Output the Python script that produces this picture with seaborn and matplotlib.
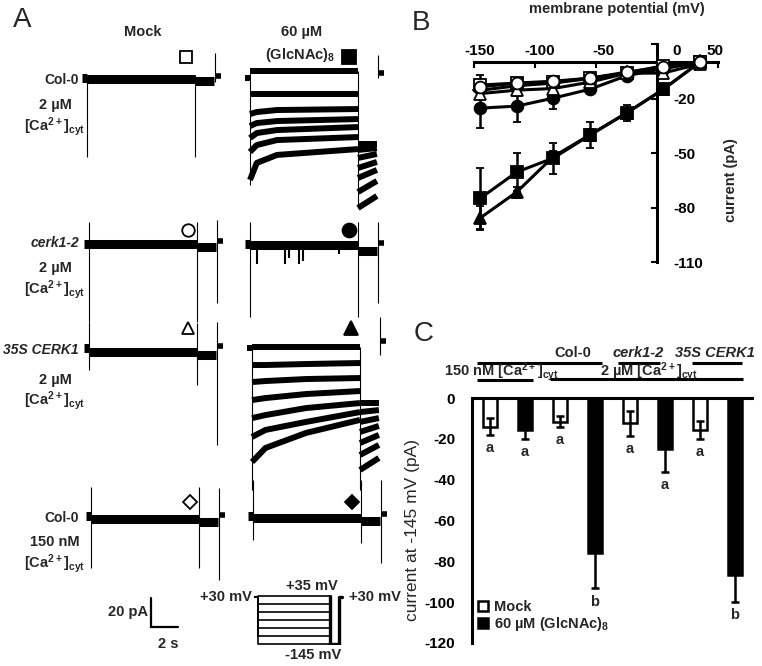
import numpy as np
import pandas as pd
import matplotlib
matplotlib.use("Agg")
import matplotlib.pyplot as plt
import matplotlib.transforms as mtransforms
import seaborn as sns

sns.set_theme(style="white")
plt.rcParams['font.family'] = ['Liberation Sans', 'DejaVu Sans']
plt.rcParams['font.size'] = 10.5
plt.rcParams['font.weight'] = 'bold'
plt.rcParams['axes.unicode_minus'] = False
plt.rcParams['mathtext.fontset'] = 'custom'
plt.rcParams['mathtext.rm'] = 'Liberation Sans:bold'
plt.rcParams['mathtext.it'] = 'Liberation Sans:italic:bold'
plt.rcParams['mathtext.bf'] = 'Liberation Sans:bold'
plt.rcParams['mathtext.default'] = 'bf'

CA = r'[Ca$^{2+}$]$_{cyt}$'
GLC = r'60 µM (GlcNAc)$_8$'

# ---------------- panel A data (pA relative to holding current, s) ----------------
step_mv = [35, 5, -25, -55, -85, -115, -145]
hold_mv = 30
tail_mv = -145
pulse_s, tail_s, after_s, pre_s = 8.0, 1.4, 0.55, 0.35

row_names = ['Col-0', 'cerk1-2', '35S CERK1', 'Col-0']
row_ca = ['2 µM', '2 µM', '2 µM', '150 nM']
row_markers = ['s', 'o', '^', 'D']

# mock column: one sweep per row
mock_pulse_pa = [-0.7, 0.0, -2.8, -2.1]
mock_tail_pa = [-2.1, -2.1, -4.9, -4.2]
mock_after_pa = [1.4, 2.1, 1.4, 0.7]
mock_spike_hi = [[2, 2, 17.5], [15.4, 15.4, 16.8], [18, 17.5, 18], [20.3, 20.3, 19.6]]
mock_spike_lo = [[-55, -55, -2.8], [-54.5, -54.5, -41.3], [-15.4, -25.9, -67.8], [-36.4, -36.4, -44.8]]

# (GlcNAc)8 column, Col-0 2 µM: one sweep per voltage step
col0_glc_t = [0, 0.5, 2, 8]
col0_glc_sweeps = [[4.9, 4.9, 4.9, 4.9],
                   [-11.2, -11.2, -11.2, -11.2],
                   [-25.2, -23.8, -22.4, -21.7],
                   [-33.6, -31.5, -30.1, -28.7],
                   [-42.0, -38.5, -36.4, -34.3],
                   [-51.7, -46.9, -43.4, -41.3],
                   [-71.3, -59.4, -53.8, -49.7]]
col0_glc_tail = [[-46.2, -46.2], [-50.3, -49.0], [-55.9, -53.1], [-62.9, -58.7],
                 [-69.9, -64.3], [-79.7, -72.0], [-90.9, -82.5]]

# (GlcNAc)8 column, 35S CERK1
ox_glc_t = [0, 1, 4, 8]
ox_glc_sweeps = [[0.7, 0.7, 0.7, 0.7],
                 [-11.9, -11.9, -11.2, -10.5],
                 [-23.8, -23.1, -21.7, -21.0],
                 [-36.4, -35.0, -32.2, -30.1],
                 [-49.0, -46.9, -42.0, -38.5],
                 [-62.2, -57.3, -51.7, -44.8],
                 [-79.7, -69.9, -59.4, -50.3]]
ox_glc_tail = [[-38.5, -38.5], [-44.8, -43.4], [-51.7, -49.0], [-58.7, -54.5],
               [-66.4, -60.8], [-74.8, -67.8], [-85.3, -76.9]]

# (GlcNAc)8 column, flat rows (cerk1-2, Col-0 150 nM)
glc_flat_pa = [None, -0.7, None, -1.4]
glc_flat_tail = [None, -4.9, None, -3.5]
glc_after_pa = [3.5, 0.7, 4.9, 1.4]
glc_spike_hi = [[4.9, 4.9, 16], [15.4, 15.4, 15.4], [1, 1, 21.7], [25, 25, 25]]
glc_spike_lo = [[-74.8, -90.9, 0], [-51, -51, -41.3], [-99, -99, -4.9], [-16.8, -18.9, -32.9]]
cerk_open_t = [0.5, 2.6, 2.9, 3.6, 3.9, 6.6]
cerk_open_pa = [-14, -14, -10, -14, -12, -7]

# ---------------- panel B data ----------------
mv = [-145, -115, -85, -55, -25, 5, 35]
col0_glc = [-75.0, -60.5, -52.8, -40.2, -28.0, -15.0, 0.0]
col0_glc_err = [17.0, 10.5, 8.5, 7.0, 4.5, 2.0, 1.0]
ox_glc = [-85.8, -71.5, -52.0, -40.0, -28.0, -15.0, 0.0]
ox_glc_err = [6.5, 3.0, 3.0, 3.0, 3.0, 2.0, 1.0]
cerk_glc = [-25.3, -24.2, -19.8, -14.9, -7.5, -3.5, 0.0]
cerk_glc_err = [11.0, 8.8, 6.0, 2.5, 2.0, 1.0, 1.0]
col0_150_glc = [-15.5, -13.0, -11.5, -9.0, -6.0, -3.5, 0.0]
col0_150_glc_err = [3.0, 3.0, 2.0, 2.0, 2.0, 1.0, 1.0]
ox_mock = [-17.3, -15.4, -14.5, -11.0, -6.1, -6.0, -1.0]
ox_mock_err = [3.0, 3.0, 3.0, 2.0, 2.0, 1.0, 1.0]
col0_mock = [-12.6, -11.5, -11.0, -8.8, -6.0, -2.0, 0.0]
col0_mock_err = [5.5, 3.0, 3.0, 3.0, 3.0, 2.0, 1.0]
cerk_mock = [-13.6, -11.5, -10.5, -8.8, -5.5, -2.5, 0.0]
cerk_mock_err = [3.0, 3.0, 2.0, 2.0, 2.0, 1.0, 1.0]

# ---------------- panel C data ----------------
c_bars = ['col0_150_mock', 'col0_150_glc', 'col0_mock', 'col0_glc',
          'cerk_mock', 'cerk_glc', 'ox_mock', 'ox_glc']
c_treat = ['Mock', GLC] * 4
c_mean = [-14.0, -15.7, -11.6, -76.1, -12.4, -25.2, -15.7, -86.8]
c_err = [4.0, 4.4, 2.6, 17.2, 6.1, 10.9, 4.5, 13.0]
c_letter = ['a', 'a', 'a', 'b', 'a', 'a', 'a', 'b']

# ---------------- figure ----------------
W, H = 762, 666
fig = plt.figure(figsize=(W / 100, H / 100), dpi=100)


def px_axes(left, top, right, bottom):
    ax = fig.add_axes([left / W, 1 - bottom / H, (right - left) / W, (bottom - top) / H])
    ax.patch.set_alpha(0)
    return ax


def ptext(x, y, s, **kw):
    kw.setdefault('ha', 'center')
    kw.setdefault('va', 'center')
    fig.text(x / W, 1 - y / H, s, **kw)


PX_S, PX_PA = 13.5, 1.43


def cell_axes(x0, y0):
    ax = px_axes(x0 - 0.6 * PX_S, y0 - 30 * PX_PA, x0 + 10.4 * PX_S, y0 + 100 * PX_PA)
    ax.set_xlim(-0.6, 10.4)
    ax.set_ylim(-100, 30)
    ax.axis('off')
    return ax


def draw_cell(ax, t, sweeps, tails, after, hi, lo, lw):
    kw = dict(color='black', solid_capstyle='butt', solid_joinstyle='round')
    ax.plot([-pre_s, 0], [0, 0], lw=lw, **kw)
    for sw, tl in zip(sweeps, tails):
        ax.plot(t, sw, lw=lw, **kw)
        ax.plot([pulse_s, pulse_s + tail_s], tl, lw=lw, **kw)
    t_after = pulse_s + tail_s
    ax.plot([t_after + 0.05, t_after + after_s], [after, after], lw=4, **kw)
    ax.vlines([0, pulse_s, t_after + 0.05], lo, hi, color='black', lw=0.8)


mock_x0 = [87, 89, 89, 91]
glc_x0 = [250, 250, 252, 253]
row_y0 = [78, 244, 348, 516]
mark_y = [15, 10, 14, 10]

for r in range(4):
    ax_m = cell_axes(mock_x0[r], row_y0[r])
    draw_cell(ax_m, [0, pulse_s], [[mock_pulse_pa[r]] * 2], [[mock_tail_pa[r]] * 2],
              mock_after_pa[r], mock_spike_hi[r], mock_spike_lo[r], 6.5)
    ax_m.plot(7.3, mark_y[r], marker=row_markers[r], ms=9 if r < 3 else 7,
              mfc='white', mec='black', mew=1.3)

    ax_g = cell_axes(glc_x0[r], row_y0[r])
    if r == 0:
        draw_cell(ax_g, col0_glc_t, col0_glc_sweeps, col0_glc_tail, glc_after_pa[r],
                  glc_spike_hi[r], glc_spike_lo[r], 4.3)
    elif r == 2:
        draw_cell(ax_g, ox_glc_t, ox_glc_sweeps, ox_glc_tail, glc_after_pa[r],
                  glc_spike_hi[r], glc_spike_lo[r], 4.3)
    else:
        draw_cell(ax_g, [0, pulse_s], [[glc_flat_pa[r]] * 2], [[glc_flat_tail[r]] * 2],
                  glc_after_pa[r], glc_spike_hi[r], glc_spike_lo[r], 6.5)
    if r == 1:
        ax_g.vlines(cerk_open_t, cerk_open_pa, 0, color='black', lw=1.5)
    ax_g.plot(7.3, mark_y[r], marker=row_markers[r], ms=10 if r < 3 else 7,
              mfc='black', mec='black', mew=1.3)

    if r == 3:
        # scale bar 20 pA / 2 s
        ax_m.plot([4.45, 4.45, 6.45], [-57.6, -77.6, -77.6], color='black', lw=1.6,
                  solid_joinstyle='miter')

# row labels
row_label_y = [80, 243, 350, 518]
ca1_y = [105, 268, 380, 542]
ca2_y = [127, 290, 401, 564]
for r in range(4):
    style = 'italic' if r in (1, 2) else 'normal'
    ptext(79, row_label_y[r], row_names[r], ha='right', style=style, fontsize=10)
    ptext(55, ca1_y[r], row_ca[r])
    ptext(55, ca2_y[r], CA)

ptext(143, 32, 'Mock')
ptext(302, 32, '60 µM')
ptext(300, 55, '(GlcNAc)$_8$')
ptext(148, 612, '20 pA', ha='right')
ptext(168, 644, '2 s')

# voltage protocol
ax_p = px_axes(253.5, 594.7, 343.5, 645.3)
ax_p.set_xlim(-0.5, 9.5)
ax_p.set_ylim(-150, 40)
ax_p.axis('off')
for v in step_mv:
    ax_p.plot([-0.3, 0, 0, pulse_s, pulse_s], [hold_mv, hold_mv, v, v, tail_mv],
              color='black', lw=1.2)
ax_p.plot([pulse_s, pulse_s], [step_mv[0], tail_mv], color='black', lw=2.4)
ax_p.plot([pulse_s, pulse_s + 1, pulse_s + 1, pulse_s + 1.35],
          [tail_mv, tail_mv, hold_mv, hold_mv], color='black', lw=2.4)
ptext(226, 597, '+30 mV')
ptext(312, 586, '+35 mV')
ptext(313, 655, '-145 mV')
ptext(375, 597, '+30 mV')

# panel letters
ptext(22, 20, 'A', fontsize=20, weight='normal')
ptext(421, 23, 'B', fontsize=20, weight='normal')
ptext(424, 334, 'C', fontsize=20, weight='normal')

# ---------------- panel B ----------------
ax_b = px_axes(474, 44, 718, 262)
b_series = [(col0_glc, col0_glc_err, 's', 'black'),
            (ox_glc, ox_glc_err, '^', 'black'),
            (cerk_glc, cerk_glc_err, 'o', 'black'),
            (col0_150_glc, col0_150_glc_err, 'D', 'black'),
            (ox_mock, ox_mock_err, '^', 'white'),
            (col0_mock, col0_mock_err, 's', 'white'),
            (cerk_mock, cerk_mock_err, 'o', 'white')]
for vals, errs, mk, fc in b_series:
    ax_b.errorbar(mv, vals, yerr=errs, color='black', lw=2.2, marker=mk,
                  ms=7 if mk == 'D' else 8.5, mfc=fc, mec='black', mew=1.3,
                  elinewidth=1.8, capsize=3, capthick=1.8, clip_on=False, zorder=3)
ax_b.set_xlim(-150, 50)
ax_b.set_ylim(-110, 10)
for side in ['left', 'bottom']:
    ax_b.spines[side].set_visible(False)
ax_b.spines['top'].set_position(('data', 0))
ax_b.spines['right'].set_position(('data', 0))
for side in ['top', 'right']:
    ax_b.spines[side].set_linewidth(2.2)
    ax_b.spines[side].set_color('black')
ax_b.xaxis.set_ticks_position('top')
ax_b.yaxis.set_ticks_position('right')
ax_b.set_xticks([-150, -100, -50, 0, 50])
ax_b.set_xticklabels(['-150', '-100', '-50', '0', '50'])
ax_b.set_yticks([-110, -80, -50, -20, 10])
ax_b.set_yticklabels(['-110', '-80', '-50', '-20', ''])
ax_b.tick_params(axis='x', direction='in', length=4, width=1.5, pad=3, colors='black')
ax_b.tick_params(axis='y', direction='in', length=4, width=1.5, pad=12, colors='black')
for lab, dx in zip(ax_b.get_xticklabels(), [6, 5, 7, 20, -3]):
    lab.set_transform(lab.get_transform() + mtransforms.ScaledTranslation(dx / 100, 0, fig.dpi_scale_trans))
ptext(617, 9, 'membrane potential (mV)')
ptext(731, 180, 'current (pA)', rotation=90)

# ---------------- panel C ----------------
ax_c = px_axes(472, 398, 752, 643)
df_c = pd.DataFrame({'bar': c_bars, 'current': c_mean, 'treatment': c_treat})
sns.barplot(data=df_c, x='bar', y='current', hue='treatment', order=c_bars,
            hue_order=['Mock', GLC], palette=['white', 'black'], saturation=1,
            dodge=False, width=0.4, edgecolor='black', linewidth=1.8,
            errorbar=None, ax=ax_c)
xpos = np.arange(len(c_bars))
ax_c.errorbar(xpos, c_mean, yerr=c_err, fmt='none', ecolor='black', elinewidth=1.8,
              capsize=3, capthick=1.8, zorder=4)
for x, m, e, s in zip(xpos, c_mean, c_err, c_letter):
    ax_c.text(x, m - e - 3, s, ha='center', va='top')
ax_c.set_xlim(-0.5, 7.5)
ax_c.set_ylim(-120, 0)
ax_c.set_xlabel('')
ax_c.set_ylabel('')
ax_c.set_xticks([])
ax_c.set_yticks([0, -20, -40, -60, -80, -100, -120])
ax_c.tick_params(axis='y', length=0, pad=12, colors='black')
for side in ['bottom', 'right']:
    ax_c.spines[side].set_visible(False)
for side in ['left', 'top']:
    ax_c.spines[side].set_visible(True)
    ax_c.spines[side].set_linewidth(2.2)
    ax_c.spines[side].set_color('black')
handles, labels = ax_c.get_legend_handles_labels()
ax_c.legend(handles, labels, loc='lower left', bbox_to_anchor=(0.02, 0.04), frameon=False,
            handlelength=0.7, handleheight=0.7, handletextpad=0.4, labelspacing=0.1,
            borderaxespad=0, borderpad=0, fontsize=10.5)

# group brackets above panel C
brackets = [(-0.36, 3.21, 17.2), (3.67, 4.87, 17.2), (5.79, 7.21, 17.2),
            (-0.36, 1.24, 8.8), (1.73, 7.24, 9.3)]
for x1, x2, y in brackets:
    ax_c.plot([x1, x2], [y, y], color='black', lw=2.2, clip_on=False, solid_capstyle='butt')
ax_c.text(2.39, 18.8, 'Col-0', ha='center', va='bottom')
ax_c.text(4.24, 18.8, 'cerk1-2', ha='center', va='bottom', style='italic')
ax_c.text(6.44, 18.8, '35S CERK1', ha='center', va='bottom', style='italic')
ax_c.text(0.33, 10.8, '150 nM ' + CA, ha='center', va='baseline')
ax_c.text(4.56, 10.8, '2 µM ' + CA, ha='center', va='baseline')
ptext(413, 530, 'current at -145 mV (pA)', rotation=90, weight='normal', fontsize=12.5)

fig.savefig('out.png', dpi=100)
